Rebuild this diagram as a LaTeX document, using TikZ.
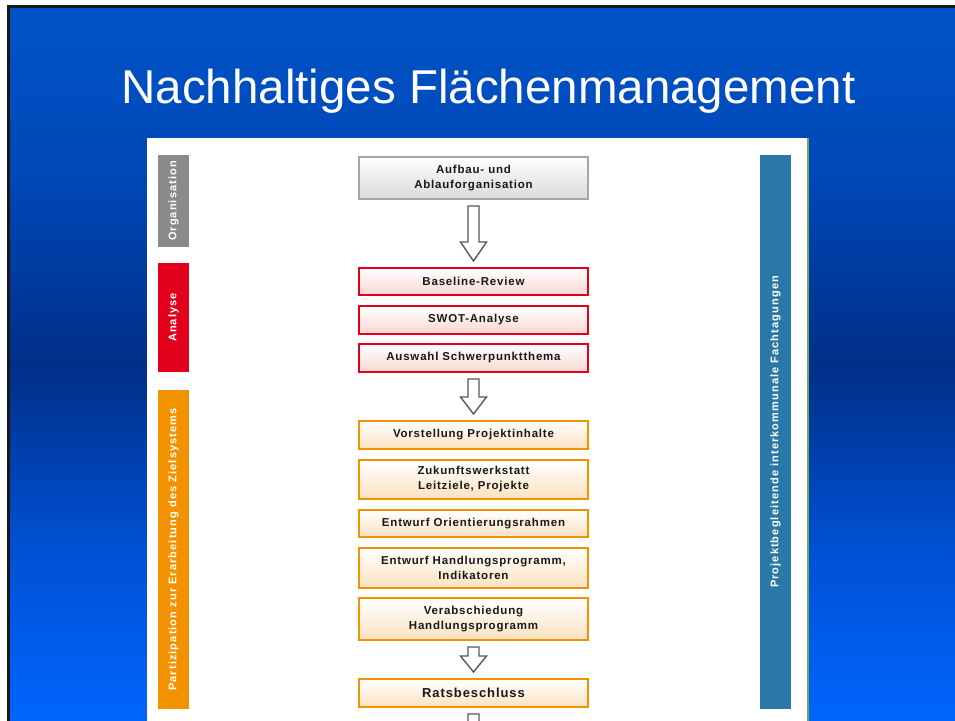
\documentclass[tikz,border=0pt]{standalone}
\usepackage{fontspec}
\setmainfont{Liberation Sans}
\newfontfamily\boxfont[LetterSpace=7]{Liberation Sans}
\newfontfamily\sidefont[LetterSpace=10]{Liberation Sans}
\usetikzlibrary{calc}
\definecolor{orgGray}{HTML}{8A8A8A}
\definecolor{anaRed}{HTML}{E2001A}
\definecolor{parOrange}{HTML}{F39200}
\definecolor{fachBlue}{HTML}{2A78A6}
\definecolor{redFill}{HTML}{F8D8D2}
\definecolor{orFill}{HTML}{FCE2C0}
\definecolor{grFill}{HTML}{DADADA}
\definecolor{greenLine}{HTML}{6AAE5C}
\definecolor{bgA}{HTML}{0066FF}
\definecolor{bgB}{HTML}{0050D2}
\definecolor{bgC}{HTML}{002F88}
\definecolor{bgD}{HTML}{0046B6}
\definecolor{bgE}{HTML}{0054C8}
\pgfdeclareverticalshading{slidebg}{100bp}{color(0bp)=(bgA); color(25bp)=(bgA); color(37.5bp)=(bgB); color(50bp)=(bgC); color(62.5bp)=(bgD); color(75bp)=(bgE); color(100bp)=(bgE)}
\newcommand{\hollowarr}[3]{%
  \draw[hollow] let \p1=(#1), \p2=(#2) in
    ({\x1-5.5pt},{\y1-6pt}) -- ({\x1+5.5pt},{\y1-6pt}) -- ({\x1+5.5pt},{\y2+6pt+#3}) --
    ({\x1+13pt},{\y2+6pt+#3}) -- (\x1,{\y2+6pt}) -- ({\x1-13pt},{\y2+6pt+#3}) --
    ({\x1-5.5pt},{\y2+6pt+#3}) -- cycle;}
\tikzset{
  x=1pt, y=-1pt,
  stepbox/.style={draw, line width=2pt, minimum width=229pt, anchor=north, inner sep=0pt,
    align=center, text=black!90, font=\boxfont\bfseries\fontsize{11.5}{15}\selectfont},
  graybox/.style={stepbox, draw=black!35, top color=white, bottom color=grFill},
  redbox/.style={stepbox, draw=anaRed, top color=white, bottom color=redFill},
  orbox/.style={stepbox, draw=parOrange, top color=white, bottom color=orFill},
  sidebar/.style={rotate=90, minimum height=31pt, inner sep=0pt, text=white,
    font=\sidefont\bfseries\fontsize{11}{12}\selectfont},
  hollow/.style={draw=black!65, fill=white, line width=1.4pt, line join=miter}
}
\begin{document}
\begin{tikzpicture}
\useasboundingbox (0,0) rectangle (955,720);
\clip (0,0) rectangle (955,720);
% slide background
\fill[white] (0,0) rectangle (955,720);
\fill[black!90] (7,5) rectangle (960,725);
\shade[shading=slidebg] (10,8) rectangle (960,725);
% title
\node[font=\fontsize{47.5}{50}\selectfont, text=white, anchor=base, inner sep=0pt] (title) at (488.5,103) {Nachhaltiges Flächenmanagement};
% white panel
\fill[white] (147,138) rectangle (807,725);
\draw[greenLine, line width=2pt] (807.5,138) -- (807.5,725);
% side bars
\node[sidebar, fill=orgGray, minimum width=92pt] (sOrg) at (173.5,201) {Organisation};
\node[sidebar, fill=anaRed, minimum width=109pt] (sAna) at (173.5,317.5) {Analyse};
\node[sidebar, fill=parOrange, minimum width=319pt] (sPar) at (173.5,549.5) {Partizipation zur Erarbeitung des Zielsystems};
\node[sidebar, fill=fachBlue, minimum width=554pt] (sFach) at (775.5,432) {Projektbegleitende interkommunale Fachtagungen};
% boxes
\node[graybox, minimum height=42pt] (b1) at (473.5,156) {Aufbau- und\\Ablauforganisation};
\node[redbox, minimum height=27pt] (r1) at (473.5,267) {Baseline-Review};
\node[redbox, minimum height=28pt] (r2) at (473.5,305) {SWOT-Analyse};
\node[redbox, minimum height=28pt] (r3) at (473.5,343) {Auswahl Schwerpunktthema};
\node[orbox, minimum height=28pt] (o1) at (473.5,420) {Vorstellung Projektinhalte};
\node[orbox, minimum height=39pt] (o2) at (473.5,459) {Zukunftswerkstatt\\Leitziele, Projekte};
\node[orbox, minimum height=27pt] (o3) at (473.5,509) {Entwurf Orientierungsrahmen};
\node[orbox, minimum height=40pt] (o4) at (473.5,547) {Entwurf Handlungsprogramm,\\Indikatoren};
\node[orbox, minimum height=42pt] (o5) at (473.5,597) {Verabschiedung\\Handlungsprogramm};
\node[orbox, minimum height=28pt, font=\boxfont\bfseries\fontsize{13}{14}\selectfont] (o6) at (473.5,678) {Ratsbeschluss};
\coordinate (next) at (473.5,760);
% hollow arrows
\hollowarr{b1.south}{r1.north}{19pt}
\hollowarr{r3.south}{o1.north}{17pt}
\hollowarr{o5.south}{o6.north}{16pt}
\hollowarr{o6.south}{next}{16pt}
\end{tikzpicture}
\end{document}
